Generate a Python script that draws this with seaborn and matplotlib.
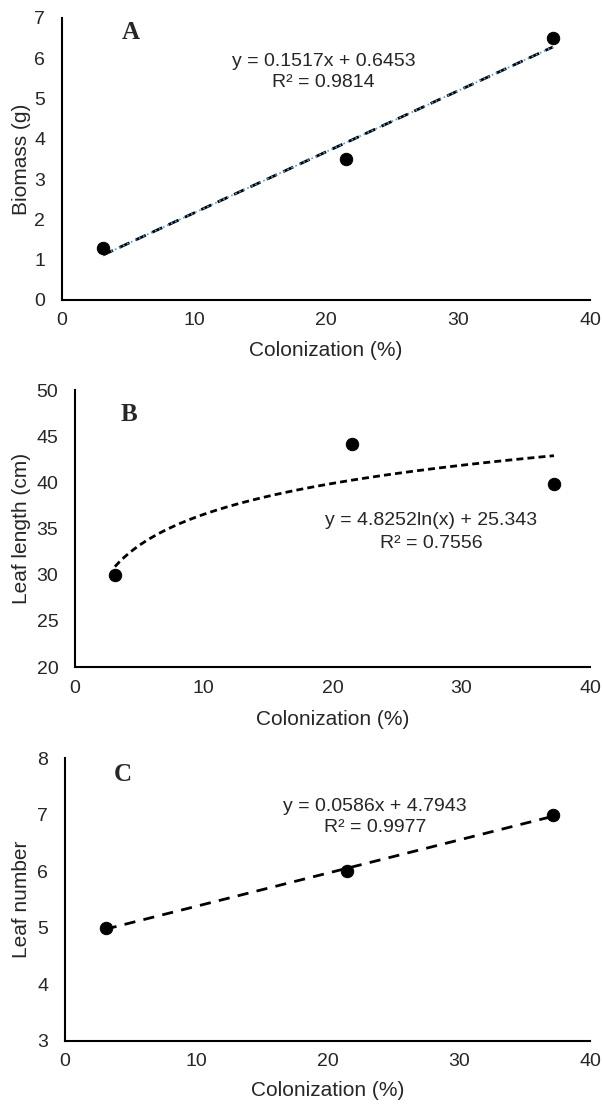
import seaborn as sns
import matplotlib.pyplot as plt
import pandas as pd

# data
colonization = [3.1, 21.5, 37.2]
biomass = [1.3, 3.5, 6.5]
leaf_length = [30.0, 44.2, 39.8]
leaf_number = [5.0, 6.0, 7.0]

eq_a = ['y = 0.1517x + 0.6453', 'R² = 0.9814']
eq_b = ['y = 4.8252ln(x) + 25.343', 'R² = 0.7556']
eq_c = ['y = 0.0586x + 4.7943', 'R² = 0.9977']

df = pd.DataFrame({'col': colonization, 'bio': biomass,
                   'length': leaf_length, 'number': leaf_number})

sns.set_style('white')
plt.rcParams['font.family'] = ['Liberation Sans', 'DejaVu Sans']

fig = plt.figure(figsize=(6.02, 11.04), dpi=100)
ax_a = fig.add_axes([0.103, 0.7283, 0.877, 0.2554])
ax_b = fig.add_axes([0.1246, 0.3958, 0.8555, 0.2509])
ax_c = fig.add_axes([0.108, 0.0571, 0.872, 0.2563])


def style(ax, ylim, yticks, ylabel, xlab_y, ylab_x):
    ax.set_xlim(0, 40)
    ax.set_xticks([0, 10, 20, 30, 40])
    ax.set_ylim(*ylim)
    ax.set_yticks(yticks)
    ax.set_xlabel('Colonization (%)', fontsize=15)
    ax.set_ylabel(ylabel, fontsize=15)
    ax.xaxis.set_label_coords(0.5, xlab_y)
    ax.yaxis.set_label_coords(ylab_x, 0.5)
    ax.tick_params(axis='x', labelsize=14, length=0, pad=9)
    ax.tick_params(axis='y', labelsize=14, length=0, pad=12)
    for s in ['top', 'right']:
        ax.spines[s].set_visible(False)
    for s in ['left', 'bottom']:
        ax.spines[s].set_color('black')
        ax.spines[s].set_linewidth(1.5)


def letter(ax, x, y, t):
    ax.text(x, y, t, fontsize=18, fontweight='bold',
            family=['Liberation Serif', 'DejaVu Serif'], ha='center', va='center')


def equation(ax, x, y1, y2, lines):
    ax.text(x, y1, lines[0], fontsize=14, ha='center', va='center')
    ax.text(x, y2, lines[1], fontsize=14, ha='center', va='center')


# A
sns.regplot(data=df, x='col', y='bio', ax=ax_a, scatter=False, ci=None,
            line_kws={'color': 'black', 'lw': 2.0, 'dashes': (4, 2.5)})
sns.regplot(data=df, x='col', y='bio', ax=ax_a, scatter=False, ci=None,
            line_kws={'color': '#5b9bd5', 'lw': 1.2, 'ls': ':'})
sns.scatterplot(data=df, x='col', y='bio', ax=ax_a, color='black', s=80,
                edgecolor='black', zorder=5)
style(ax_a, (0, 7), range(0, 8), 'Biomass (g)', -0.145, -0.059)
letter(ax_a, 5.2, 6.65, 'A')
equation(ax_a, 19.8, 5.93, 5.41, eq_a)

# B
sns.regplot(data=df, x='col', y='length', ax=ax_b, scatter=False, ci=None,
            logx=True, line_kws={'color': 'black', 'lw': 2.0, 'dashes': (2.5, 1.5)})
sns.scatterplot(data=df, x='col', y='length', ax=ax_b, color='black', s=80,
                edgecolor='black', zorder=5)
style(ax_b, (20, 50), range(20, 51, 5), 'Leaf length (cm)', -0.155, -0.086)
letter(ax_b, 4.2, 47.4, 'B')
equation(ax_b, 27.65, 35.9, 33.4, eq_b)

# C
sns.regplot(data=df, x='col', y='number', ax=ax_c, scatter=False, ci=None,
            line_kws={'color': 'black', 'lw': 2.0, 'dashes': (4, 3)})
sns.scatterplot(data=df, x='col', y='number', ax=ax_c, color='black', s=80,
                edgecolor='black', zorder=5)
style(ax_c, (3, 8), range(3, 9), 'Leaf number', -0.141, -0.065)
letter(ax_c, 4.4, 7.7, 'C')
equation(ax_c, 23.6, 7.15, 6.78, eq_c)

fig.savefig('out.png', dpi=100)
